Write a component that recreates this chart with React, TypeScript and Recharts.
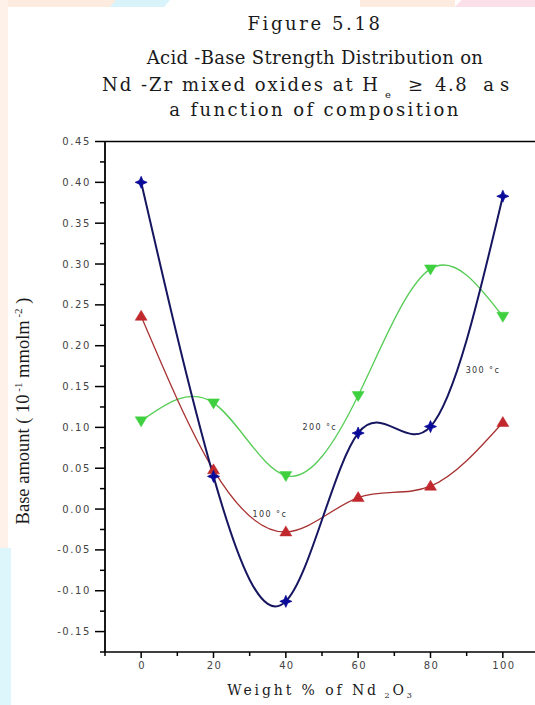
import React from 'react';
import { LineChart, Line, XAxis, YAxis, ReferenceLine, ReferenceDot } from 'recharts';

const xValues = [0, 20, 40, 60, 80, 100];
const blueValues = [0.4, 0.04, -0.113, 0.093, 0.101, 0.383];
const redValues = [0.236, 0.048, -0.028, 0.014, 0.028, 0.106];
const greenValues = [0.108, 0.13, 0.041, 0.139, 0.294, 0.236];

const xTicks = [-10, 0, 10, 20, 30, 40, 50, 60, 70, 80, 90, 100, 110];
const xMajorTicks = [0, 20, 40, 60, 80, 100];
const yTicks = [
  -0.175, -0.15, -0.125, -0.1, -0.075, -0.05, -0.025, 0, 0.025, 0.05, 0.075, 0.1, 0.125,
  0.15, 0.175, 0.2, 0.225, 0.25, 0.275, 0.3, 0.325, 0.35, 0.375, 0.4, 0.425, 0.45,
];
const yMajorTicks = [-0.15, -0.1, -0.05, 0, 0.05, 0.1, 0.15, 0.2, 0.25, 0.3, 0.35, 0.4, 0.45];
const xDomain = [-10, 110];
const yDomain = [-0.175, 0.45];

const annotations = [
  { x: 94.5, y: 0.17, text: '300 °c' },
  { x: 49.4, y: 0.1, text: '200 °c' },
  { x: 35.6, y: -0.006, text: '100 °c' },
];

const data = xValues.map((x, i) => ({
  x,
  blue: blueValues[i],
  red: redValues[i],
  green: greenValues[i],
}));

const isMajorY = (v: number) => yMajorTicks.some((m) => Math.abs(m - v) < 1e-9);
const isMajorX = (v: number) => xMajorTicks.some((m) => Math.abs(m - v) < 1e-9);

const tickFont = '"DejaVu Sans", Verdana, sans-serif';

const YTick = (props: any) => {
  const { x, y, payload } = props;
  const v = payload.value;
  const major = isMajorY(v);
  return (
    <g>
      <line x1={x - (major ? 10 : 5)} x2={x} y1={y} y2={y} stroke="#000" strokeWidth={1.5} />
      {major && (
        <text
          x={x - 14}
          y={y}
          dy="0.35em"
          textAnchor="end"
          fontFamily={tickFont}
          fontSize={10}
          letterSpacing={1.6}
          fill="#444"
        >
          {v.toFixed(2)}
        </text>
      )}
    </g>
  );
};

const XTick = (props: any) => {
  const { x, y, payload } = props;
  const v = payload.value;
  const major = isMajorX(v);
  return (
    <g>
      <line x1={x} x2={x} y1={y} y2={y + (major ? 6 : 4)} stroke="#000" strokeWidth={1.5} />
      {major && (
        <text
          x={x + 1}
          y={y + 17}
          textAnchor="middle"
          fontFamily={tickFont}
          fontSize={10}
          letterSpacing={1.3}
          fill="#444"
        >
          {String(v)}
        </text>
      )}
    </g>
  );
};

const StarDot = (props: any) => {
  const { cx, cy } = props;
  if (cx == null || cy == null) return null;
  const a = 6;
  const b = 1.8;
  const pts = [
    [0, -a], [b, -b], [a, 0], [b, b], [0, a], [-b, b], [-a, 0], [-b, -b],
  ]
    .map(([dx, dy]) => `${cx + dx},${cy + dy}`)
    .join(' ');
  return <polygon points={pts} fill="#0a0a9a" stroke="#0a0a9a" strokeWidth={0.8} />;
};

const TriUpDot = (props: any) => {
  const { cx, cy } = props;
  if (cx == null || cy == null) return null;
  const pts = `${cx},${cy - 6} ${cx + 6},${cy + 4} ${cx - 6},${cy + 4}`;
  return <polygon points={pts} fill="#c0282d" stroke="#c0282d" strokeWidth={0.5} />;
};

const TriDownDot = (props: any) => {
  const { cx, cy } = props;
  if (cx == null || cy == null) return null;
  const pts = `${cx},${cy + 6} ${cx + 6},${cy - 4} ${cx - 6},${cy - 4}`;
  return <polygon points={pts} fill="#3fd03f" stroke="#3fd03f" strokeWidth={0.5} />;
};

const titleFont = '"DejaVu Serif", "Liberation Serif", serif';

const TitleLine = ({
  top,
  spacing,
  left,
  children,
}: {
  top: number;
  spacing: number;
  left?: number;
  children: React.ReactNode;
}) => (
  <div
    style={{
      position: 'absolute',
      left: left ?? 0,
      width: left != null ? 500 : 630,
      top,
      textAlign: left != null ? 'left' : 'center',
      fontFamily: titleFont,
      fontSize: 18,
      lineHeight: '22px',
      letterSpacing: spacing,
      color: '#1a1a1a',
      whiteSpace: 'nowrap',
    }}
  >
    {children}
  </div>
);

export default function App() {
  return (
    <div
      style={{
        position: 'absolute',
        left: 0,
        top: 0,
        width: 535,
        height: 705,
        overflow: 'hidden',
        background: '#ffffff',
      }}
    >
      {/* faint decorative background bands */}
      <div style={{ position: 'absolute', left: 0, top: 0, width: 150, height: 7, background: '#fdebe0' }} />
      <div
        style={{
          position: 'absolute', left: 110, top: 0, width: 60, height: 7, background: '#d8f4fa',
          clipPath: 'polygon(10% 0, 100% 0, 90% 100%, 0 100%)',
        }}
      />
      <div style={{ position: 'absolute', left: 360, top: 0, width: 95, height: 7, background: '#fdebe0' }} />
      <div
        style={{
          position: 'absolute', left: 455, top: 0, width: 80, height: 7, background: '#fbe0ea',
          clipPath: 'polygon(8% 0, 100% 0, 100% 100%, 0 100%)',
        }}
      />
      <div style={{ position: 'absolute', left: 0, top: 0, width: 8, height: 548, background: '#fdf1ea' }} />
      <div style={{ position: 'absolute', left: 0, top: 548, width: 11, height: 157, background: '#dcf6fb' }} />

      <TitleLine top={13} spacing={2.6}>Figure 5.18</TitleLine>
      <TitleLine top={47} spacing={0.3}>Acid -Base Strength Distribution on</TitleLine>
      <TitleLine top={74} spacing={2} left={102}>
        Nd -Zr mixed oxides at H
        <span style={{ fontSize: 10, position: 'relative', top: 7, margin: '0 15px 0 5px' }}>e</span>
        <span style={{ marginRight: 10 }}>≥</span>
        <span style={{ letterSpacing: 1.5, marginRight: 15 }}>4.8</span>
        <span style={{ letterSpacing: 6 }}>as</span>
      </TitleLine>
      <TitleLine top={99} spacing={2.4}>a function of composition</TitleLine>

      <LineChart
        width={560}
        height={705}
        data={data}
        margin={{ top: 141.5, right: 21, bottom: 23, left: 45 }}
        style={{ position: 'absolute', left: 0, top: 0 }}
      >
        <XAxis
          dataKey="x"
          type="number"
          domain={xDomain}
          ticks={xTicks}
          interval={0}
          tickLine={false}
          tickSize={0}
          tickMargin={0}
          tick={<XTick />}
          height={30}
          axisLine={{ stroke: '#000', strokeWidth: 1.5 }}
          allowDataOverflow
        />
        <YAxis
          type="number"
          domain={yDomain}
          ticks={yTicks}
          interval={0}
          tickLine={false}
          tickSize={0}
          tickMargin={0}
          tick={<YTick />}
          width={60}
          axisLine={{ stroke: '#000', strokeWidth: 1.8 }}
          allowDataOverflow
        />
        <ReferenceLine y={0.45} stroke="#000" strokeWidth={1.5} ifOverflow="visible" />
        <Line
          type="natural"
          dataKey="green"
          stroke="#55cc55"
          strokeWidth={1.3}
          dot={<TriDownDot />}
          isAnimationActive={false}
        />
        <Line
          type="natural"
          dataKey="red"
          stroke="#a83232"
          strokeWidth={1.3}
          dot={<TriUpDot />}
          isAnimationActive={false}
        />
        <Line
          type="natural"
          dataKey="blue"
          stroke="#161660"
          strokeWidth={2}
          dot={<StarDot />}
          isAnimationActive={false}
        />
        {annotations.map((a) => (
          <ReferenceDot
            key={a.text}
            x={a.x}
            y={a.y}
            r={0}
            fill="none"
            stroke="none"
            label={{
              value: a.text,
              position: 'center',
              fontSize: 8,
              fill: '#333',
              fontFamily: tickFont,
              letterSpacing: 1.4,
            }}
          />
        ))}
      </LineChart>

      <svg
        width={535}
        height={705}
        style={{ position: 'absolute', left: 0, top: 0, pointerEvents: 'none' }}
      >
        <text
          transform="translate(29,411) rotate(-90)"
          textAnchor="middle"
          fontFamily='"Liberation Serif", "Times New Roman", serif'
          fontSize={18.5}
          fill="#1a1a1a"
        >
          Base amount ( 10
          <tspan dy={-7} fontSize={11}> -1</tspan>
          <tspan dy={7}>  mmolm</tspan>
          <tspan dy={-7} fontSize={11}> -2</tspan>
          <tspan dy={7}> )</tspan>
        </text>
        <text
          x={321}
          y={695}
          textAnchor="middle"
          fontFamily={titleFont}
          fontSize={14}
          letterSpacing={2.9}
          fill="#1a1a1a"
        >
          Weight % of Nd
          <tspan dy={3} fontSize={8}> 2</tspan>
          <tspan dy={-3}>O</tspan>
          <tspan dy={3} fontSize={8}>3</tspan>
        </text>
      </svg>
    </div>
  );
}
